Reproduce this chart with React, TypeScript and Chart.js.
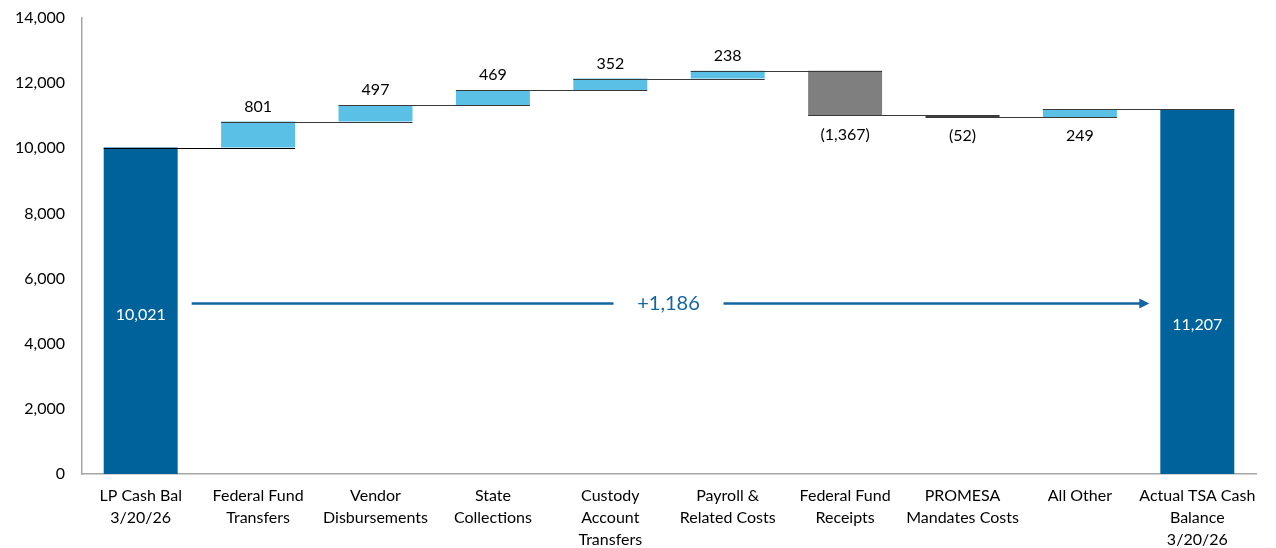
import React, { useEffect, useRef } from "react";
import { Chart, registerables } from "chart.js";

Chart.register(...registerables);

const categories: string[][] = [
  ["LP Cash Bal", "3/20/26"],
  ["Federal Fund", "Transfers"],
  ["Vendor", "Disbursements"],
  ["State", "Collections"],
  ["Custody", "Account", "Transfers"],
  ["Payroll &", "Related Costs"],
  ["Federal Fund", "Receipts"],
  ["PROMESA", "Mandates Costs"],
  ["All Other"],
  ["Actual TSA Cash", "Balance", "3/20/26"],
];
const changes: number[] = [10021, 801, 497, 469, 352, 238, -1367, -52, 249, 11207];
const kinds: string[] = ["total", "step", "step", "step", "step", "step", "step", "step", "step", "total"];
const valueLabels: string[] = ["10,021", "801", "497", "469", "352", "238", "(1,367)", "(52)", "249", "11,207"];
const labelBelow: boolean[] = [false, false, false, false, false, false, true, true, true, false];
const totalChangeLabel = "+1,186";
const yTicks: number[] = [0, 2000, 4000, 6000, 8000, 10000, 12000, 14000];

const DARK = "#00629B";
const LIGHT = "#5BC0E6";
const GREY = "#7F7F7F";
const DARKGREY = "#404040";
const FONT = "Lato, 'Open Sans', sans-serif";

function buildRanges(): [number, number][] {
  const out: [number, number][] = [];
  let run = 0;
  changes.forEach((c, i) => {
    if (kinds[i] === "total") {
      out.push([0, c]);
      run = c;
    } else {
      out.push([run, run + c]);
      run += c;
    }
  });
  return out;
}

export default function App() {
  const ref = useRef<HTMLCanvasElement | null>(null);
  useEffect(() => {
    document.body.style.margin = "0";
    const ranges = buildRanges();
    const colors = changes.map((c, i) => {
      if (kinds[i] === "total") return DARK;
      if (c >= 0) return LIGHT;
      return Math.abs(c) < 200 ? DARKGREY : GREY;
    });

    const overlay = {
      id: "overlay",
      afterDatasetsDraw(chart: any) {
        const ctx = chart.ctx;
        const meta = chart.getDatasetMeta(0);
        const y = chart.scales.y;
        const bars = meta.data;
        ctx.save();
        // connectors
        for (let i = 0; i < bars.length - 1; i++) {
          const b = bars[i];
          const n = bars[i + 1];
          const endVal = ranges[i][1];
          const py = Math.round(y.getPixelForValue(endVal)) + 0.5;
          const bw = b.width;
          ctx.strokeStyle = i === 0 ? "#000000" : "#3a3a3a";
          ctx.lineWidth = 1.2;
          ctx.beginPath();
          ctx.moveTo(b.x - bw / 2, py);
          ctx.lineTo(n.x + n.width / 2, py);
          ctx.stroke();
        }
        // value labels
        ctx.font = `16px ${FONT}`;
        ctx.textAlign = "center";
        ctx.textBaseline = "middle";
        bars.forEach((b: any, i: number) => {
          const [lo, hi] = ranges[i];
          if (kinds[i] === "total") {
            ctx.fillStyle = "#ffffff";
            const v = i === 0 ? 4880 : 4575;
            ctx.fillText(valueLabels[i], b.x, y.getPixelForValue(v));
          } else {
            ctx.fillStyle = "#000000";
            const top = y.getPixelForValue(Math.max(lo, hi));
            const bot = y.getPixelForValue(Math.min(lo, hi));
            if (labelBelow[i]) ctx.fillText(valueLabels[i], b.x, bot + 19);
            else ctx.fillText(valueLabels[i], b.x, top - 15);
          }
        });
        // overall arrow
        const first = bars[0];
        const last = bars[bars.length - 1];
        const ay = Math.round(y.getPixelForValue(5250)) + 0.5;
        const x1 = first.x + first.width / 2 + 14;
        const x2 = last.x - last.width / 2 - 11;
        const mid = (x1 + x2) / 2;
        ctx.strokeStyle = "#1565A0";
        ctx.fillStyle = "#1565A0";
        ctx.lineWidth = 2.5;
        ctx.beginPath();
        ctx.moveTo(x1, ay);
        ctx.lineTo(mid - 57, ay);
        ctx.moveTo(mid + 53, ay);
        ctx.lineTo(x2 - 8, ay);
        ctx.stroke();
        ctx.beginPath();
        ctx.moveTo(x2, ay);
        ctx.lineTo(x2 - 10, ay - 5);
        ctx.lineTo(x2 - 10, ay + 5);
        ctx.closePath();
        ctx.fill();
        ctx.font = `20px ${FONT}`;
        ctx.fillText(totalChangeLabel, mid - 2, ay);
        ctx.restore();
      },
    };

    const chart = new Chart(ref.current as HTMLCanvasElement, {
      type: "bar",
      data: {
        labels: categories,
        datasets: [
          {
            data: ranges as any,
            backgroundColor: colors,
            borderWidth: 0,
            borderSkipped: false,
            barPercentage: 0.63,
            categoryPercentage: 1,
          },
        ],
      },
      options: {
        animation: false,
        responsive: true,
        maintainAspectRatio: false,
        layout: { padding: { top: 18, right: 20, left: 0, bottom: 0 } },
        plugins: { legend: { display: false }, tooltip: { enabled: false } },
        scales: {
          x: {
            grid: { display: false, drawTicks: false },
            border: { display: true, color: "#A6A6A6", width: 1.5 },
            ticks: {
              color: "#000000",
              font: { family: FONT, size: 16, lineHeight: 1.375 },
              padding: 11,
              maxRotation: 0,
              autoSkip: false,
            },
            afterFit: (s: any) => {
              s.height = 74;
              s.paddingLeft = 0;
              s.paddingRight = 0;
            },
          },
          y: {
            min: 0,
            max: 14000,
            afterBuildTicks: (s: any) => {
              s.ticks = yTicks.map((v) => ({ value: v }));
            },
            grid: { display: false, drawTicks: false },
            border: { display: true, color: "#A6A6A6", width: 1.5 },
            ticks: {
              color: "#000000",
              font: { family: FONT, size: 16 },
              padding: 17,
              callback: (v: any) => Number(v).toLocaleString("en-US"),
            },
            afterFit: (s: any) => {
              s.width = 82;
              s.paddingTop = 0;
              s.paddingBottom = 0;
            },
          },
        },
      },
      plugins: [overlay],
    });
    return () => chart.destroy();
  }, []);

  return (
    <div style={{ width: 1276, height: 548, position: "relative" }}>
      <canvas ref={ref} />
    </div>
  );
}
